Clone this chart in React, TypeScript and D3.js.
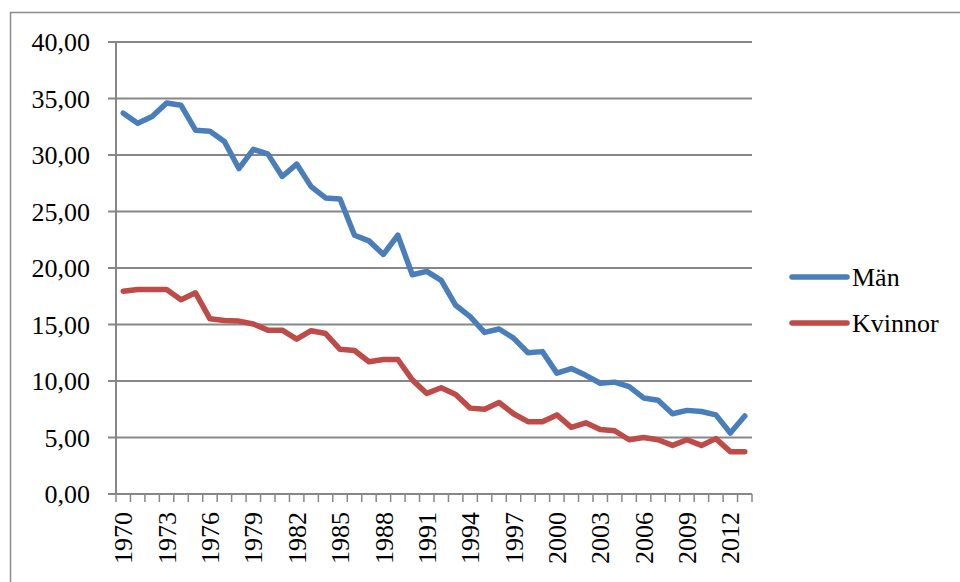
import React, { useRef, useEffect } from "react";
import * as d3 from "d3";

// years on the category axis
const years: number[] = d3.range(1970, 2014);

// values
const man: number[] = [
  33.7, 32.8, 33.4, 34.6, 34.4, 32.2, 32.1, 31.2, 28.8, 30.5, 30.1, 28.1, 29.2, 27.2,
  26.2, 26.1, 22.9, 22.4, 21.2, 22.9, 19.4, 19.7, 18.9, 16.7, 15.7, 14.3, 14.6, 13.8,
  12.5, 12.6, 10.7, 11.1, 10.5, 9.8, 9.9, 9.5, 8.5, 8.3, 7.1, 7.4, 7.3, 7.0, 5.4, 6.9,
];
const kvinnor: number[] = [
  17.95, 18.1, 18.1, 18.1, 17.2, 17.8, 15.5, 15.35, 15.3, 15.05, 14.5, 14.5, 13.7, 14.45,
  14.2, 12.8, 12.7, 11.7, 11.9, 11.9, 10.1, 8.9, 9.4, 8.8, 7.6, 7.5, 8.1, 7.1,
  6.4, 6.4, 7.0, 5.9, 6.3, 5.7, 5.6, 4.8, 5.0, 4.8, 4.3, 4.8, 4.3, 4.9, 3.75, 3.75,
];
const yTicks: number[] = [0, 5, 10, 15, 20, 25, 30, 35, 40];

const series = [
  { name: "Män", values: man, color: "#4a7ebb" },
  { name: "Kvinnor", values: kvinnor, color: "#be4b48" },
];

const FONT = "'Liberation Serif', 'Times New Roman', serif";

const App = () => {
  const svgRef = useRef<SVGSVGElement>(null);

  useEffect(() => {
    const width = 960;
    const height = 582;
    const left = 116;
    const right = 752;
    const top = 42;
    const bottom = 494;
    const grid = "#878787";

    const svg = d3.select(svgRef.current).attr("width", width).attr("height", height);
    svg.selectAll("*").remove();

    svg.append("rect").attr("width", width).attr("height", height).attr("fill", "#fff");

    // outer frame (runs off the right and bottom of the picture)
    svg
      .append("rect")
      .attr("x", 10.5)
      .attr("y", 12.5)
      .attr("width", 1000)
      .attr("height", 700)
      .attr("fill", "none")
      .attr("stroke", "#8c8c8c")
      .attr("stroke-width", 1.5);

    const x = d3.scaleBand<number>().domain(years).range([left, right]);
    const y = d3.scaleLinear().domain([0, 40]).range([bottom, top]);
    const fmt = (v: number) => d3.format(".2f")(v).replace(".", ",");

    // gridlines + y ticks
    svg
      .selectAll("line.grid")
      .data(yTicks)
      .join("line")
      .attr("class", "grid")
      .attr("x1", left - 8)
      .attr("x2", (d) => (d === 0 ? right : right))
      .attr("y1", (d) => y(d))
      .attr("y2", (d) => y(d))
      .attr("stroke", grid)
      .attr("stroke-width", 2);

    svg
      .selectAll("text.ylab")
      .data(yTicks)
      .join("text")
      .attr("class", "ylab")
      .attr("x", 90)
      .attr("y", (d) => y(d))
      .attr("dy", "0.35em")
      .attr("text-anchor", "end")
      .style("font-family", FONT)
      .style("font-size", "26px")
      .attr("fill", "#000")
      .text(fmt);

    // y axis line
    svg
      .append("line")
      .attr("x1", left)
      .attr("x2", left)
      .attr("y1", top)
      .attr("y2", bottom)
      .attr("stroke", grid)
      .attr("stroke-width", 2);

    // x ticks between categories
    const edges = years.map((d) => x(d) as number).concat([right]);
    svg
      .selectAll("line.xtick")
      .data(edges)
      .join("line")
      .attr("class", "xtick")
      .attr("x1", (d) => d)
      .attr("x2", (d) => d)
      .attr("y1", bottom)
      .attr("y2", bottom + 8)
      .attr("stroke", grid)
      .attr("stroke-width", 1.5);

    svg
      .selectAll("text.xlab")
      .data(years.filter((d, i) => i % 3 === 0))
      .join("text")
      .attr("class", "xlab")
      .attr("transform", (d) => `translate(${(x(d) as number) + x.bandwidth() / 2},512) rotate(-90)`)
      .attr("dy", "0.35em")
      .attr("text-anchor", "end")
      .style("font-family", FONT)
      .style("font-size", "26px")
      .attr("fill", "#000")
      .text((d) => String(d));

    const line = d3
      .line<number>()
      .x((d, i) => (x(years[i]) as number) + x.bandwidth() / 2)
      .y((d) => y(d));

    series.forEach((s) => {
      svg
        .append("path")
        .datum(s.values)
        .attr("d", line)
        .attr("fill", "none")
        .attr("stroke", s.color)
        .attr("stroke-width", 5.5)
        .attr("stroke-linejoin", "round")
        .attr("stroke-linecap", "round");
    });

    // legend
    const legend = svg
      .selectAll("g.legend")
      .data(series)
      .join("g")
      .attr("class", "legend")
      .attr("transform", (d, i) => `translate(792,${277 + i * 46})`);

    legend
      .append("line")
      .attr("x1", 0)
      .attr("x2", 55)
      .attr("stroke", (d) => d.color)
      .attr("stroke-width", 5.5)
      .attr("stroke-linecap", "round");

    legend
      .append("text")
      .attr("x", 60)
      .attr("dy", "0.35em")
      .style("font-family", FONT)
      .style("font-size", "26px")
      .attr("fill", "#000")
      .text((d) => d.name);
  }, []);

  return (
    <svg
      ref={svgRef}
      style={{ position: "absolute", left: 0, top: 0, display: "block" }}
    ></svg>
  );
};

export default App;
